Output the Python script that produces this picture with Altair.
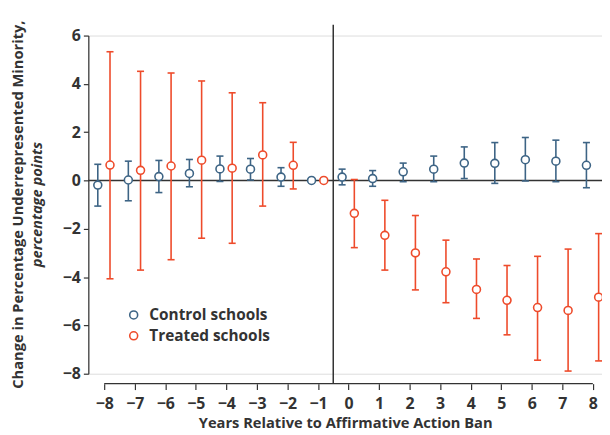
import altair as alt
import pandas as pd

years = list(range(-8, 9))
groups = ["Control schools", "Treated schools"]
colors = ["#3d6485", "#ee4b2b"]

control_est = [-0.19, 0.02, 0.16, 0.29, 0.48, 0.47, 0.14, 0.0, 0.14, 0.08, 0.36, 0.47, 0.72, 0.71, 0.86, 0.80, 0.63]
control_lo = [-1.06, -0.84, -0.50, -0.26, -0.04, 0.02, -0.24, None, -0.18, -0.24, -0.05, -0.05, 0.08, -0.12, -0.02, -0.05, -0.30]
control_hi = [0.67, 0.80, 0.83, 0.87, 1.01, 0.91, 0.53, None, 0.47, 0.41, 0.72, 1.01, 1.39, 1.57, 1.78, 1.67, 1.57]
treated_est = [0.64, 0.42, 0.60, 0.84, 0.51, 1.06, 0.63, 0.0, -1.36, -2.27, -3.00, -3.78, -4.51, -4.96, -5.26, -5.38, -4.83]
treated_lo = [-4.07, -3.71, -3.28, -2.39, -2.60, -1.06, -0.35, None, -2.78, -3.71, -4.53, -5.06, -5.71, -6.39, -7.44, -7.89, -7.47]
treated_hi = [5.33, 4.52, 4.45, 4.12, 3.63, 3.22, 1.58, None, 0.04, -0.82, -1.45, -2.47, -3.25, -3.52, -3.14, -2.84, -2.20]

y_ticks = [-8, -6, -4, -2, 0, 2, 4, 6]
x_ticks = years
x_title = "Years Relative to Affirmative Action Ban"
y_title_1 = "Change in Percentage Underrepresented Minority,"
y_title_2 = "percentage points"

rows = []
for g, est, lo, hi in [(groups[0], control_est, control_lo, control_hi),
                       (groups[1], treated_est, treated_lo, treated_hi)]:
    for yr, e, l, h in zip(years, est, lo, hi):
        rows.append({"year": yr, "group": g, "est": e, "lo": l, "hi": h})
df = pd.DataFrame(rows)
df_err = df.dropna(subset=["lo", "hi"])

W, H = 518, 341
FONT = "Open Sans"
AX = "#333333"

xscale = alt.Scale(domain=[-8.52, 8.30], nice=False, zero=False)
yscale = alt.Scale(domain=[-8, 6], nice=False, zero=False)
cscale = alt.Scale(domain=groups, range=colors)

offset_calc = "datum.year + (datum.group == 'Control schools' ? -0.21 : 0.19)"
CAP = 0.115  # half cap width in x units

legend = alt.Legend(orient="none", legendX=38, legendY=274, title=None,
                    labelFont=FONT, labelFontSize=15.5,
                    labelFontWeight="bold", labelColor=AX,
                    symbolType="circle", symbolSize=64,
                    symbolStrokeWidth=1.6, symbolFillColor="white",
                    rowPadding=4, labelOffset=8)
color = alt.Color("group:N", scale=cscale, title=None, legend=legend)

xaxis = alt.Axis(values=x_ticks, domain=False, offset=10, tickSize=6, tickColor=AX,
                 tickWidth=1.2, labelFont=FONT, labelFontSize=16, labelFontWeight="bold",
                 labelColor=AX, labelPadding=6, labelOverlap=False, grid=False, title=x_title,
                 titleFont=FONT, titleFontSize=14.8, titleFontWeight="bold",
                 titleColor=AX, titlePadding=4)
yaxis = alt.Axis(values=y_ticks, domain=True, domainColor=AX, domainWidth=1.2,
                 tickSize=5, tickColor=AX, tickWidth=1.2, labelFont=FONT,
                 labelFontSize=16, labelFontWeight="bold", labelColor=AX,
                 labelPadding=3, labelOverlap=False, grid=False, title=None)


def X(field):
    return alt.X(field, scale=xscale, axis=xaxis)


def Y(field):
    return alt.Y(field, scale=yscale, axis=yaxis)


zero_line = alt.Chart(pd.DataFrame({"v": [0]})).mark_rule(color=AX, strokeWidth=1.5).encode(
    y=Y("v:Q")
)
ban_line = alt.Chart(pd.DataFrame({"v": [-0.5]})).mark_rule(color=AX, strokeWidth=1.5).encode(
    x=X("v:Q"),
    y=alt.value(-11), y2=alt.value(H + 10)
)
x_domain = alt.Chart(pd.DataFrame({"a": [x_ticks[0]], "b": [x_ticks[-1]]})).mark_rule(
    color=AX, strokeWidth=1.2).encode(
    x=X("a:Q"), x2="b:Q", y=alt.value(H + 10)
)

err = alt.Chart(df_err).transform_calculate(
    pos=offset_calc
).transform_calculate(
    pl="datum.pos - %f" % CAP, pr="datum.pos + %f" % CAP
)
bars = err.mark_rule(strokeWidth=1.6).encode(
    x=X("pos:Q"), y=Y("lo:Q"), y2="hi:Q", color=color
)
cap_lo = err.mark_rule(strokeWidth=1.6).encode(
    x=X("pl:Q"), x2="pr:Q", y=Y("lo:Q"), color=color
)
cap_hi = err.mark_rule(strokeWidth=1.6).encode(
    x=X("pl:Q"), x2="pr:Q", y=Y("hi:Q"), color=color
)
points = alt.Chart(df).transform_calculate(pos=offset_calc).mark_point(
    shape="circle", filled=False, fill="white", fillOpacity=1, size=64, strokeWidth=1.6, opacity=1
).encode(
    x=X("pos:Q"), y=Y("est:Q"), color=color
)

t1 = alt.Chart(pd.DataFrame({"t": [y_title_1]})).mark_text(
    angle=270, font=FONT, fontSize=14.8, fontWeight="bold", color=AX,
    align="center", baseline="middle").encode(
    text="t:N", x=alt.value(-70), y=alt.value(H / 2))
t2 = alt.Chart(pd.DataFrame({"t": [y_title_2]})).mark_text(
    angle=270, font=FONT, fontSize=14.8, fontWeight="bold", fontStyle="italic", color=AX,
    align="center", baseline="middle").encode(
    text="t:N", x=alt.value(-51), y=alt.value(H / 2))

chart = alt.layer(zero_line, ban_line, x_domain, bars, cap_lo, cap_hi, points, t1, t2).properties(
    width=W, height=H,
    autosize=alt.AutoSizeParams(type="none"),
    padding={"left": 81, "top": 26, "right": 0, "bottom": 60}
).configure_view(stroke=None).configure(background="white")

chart.save("out.html", embed_options={"renderer": "svg", "actions": False})
